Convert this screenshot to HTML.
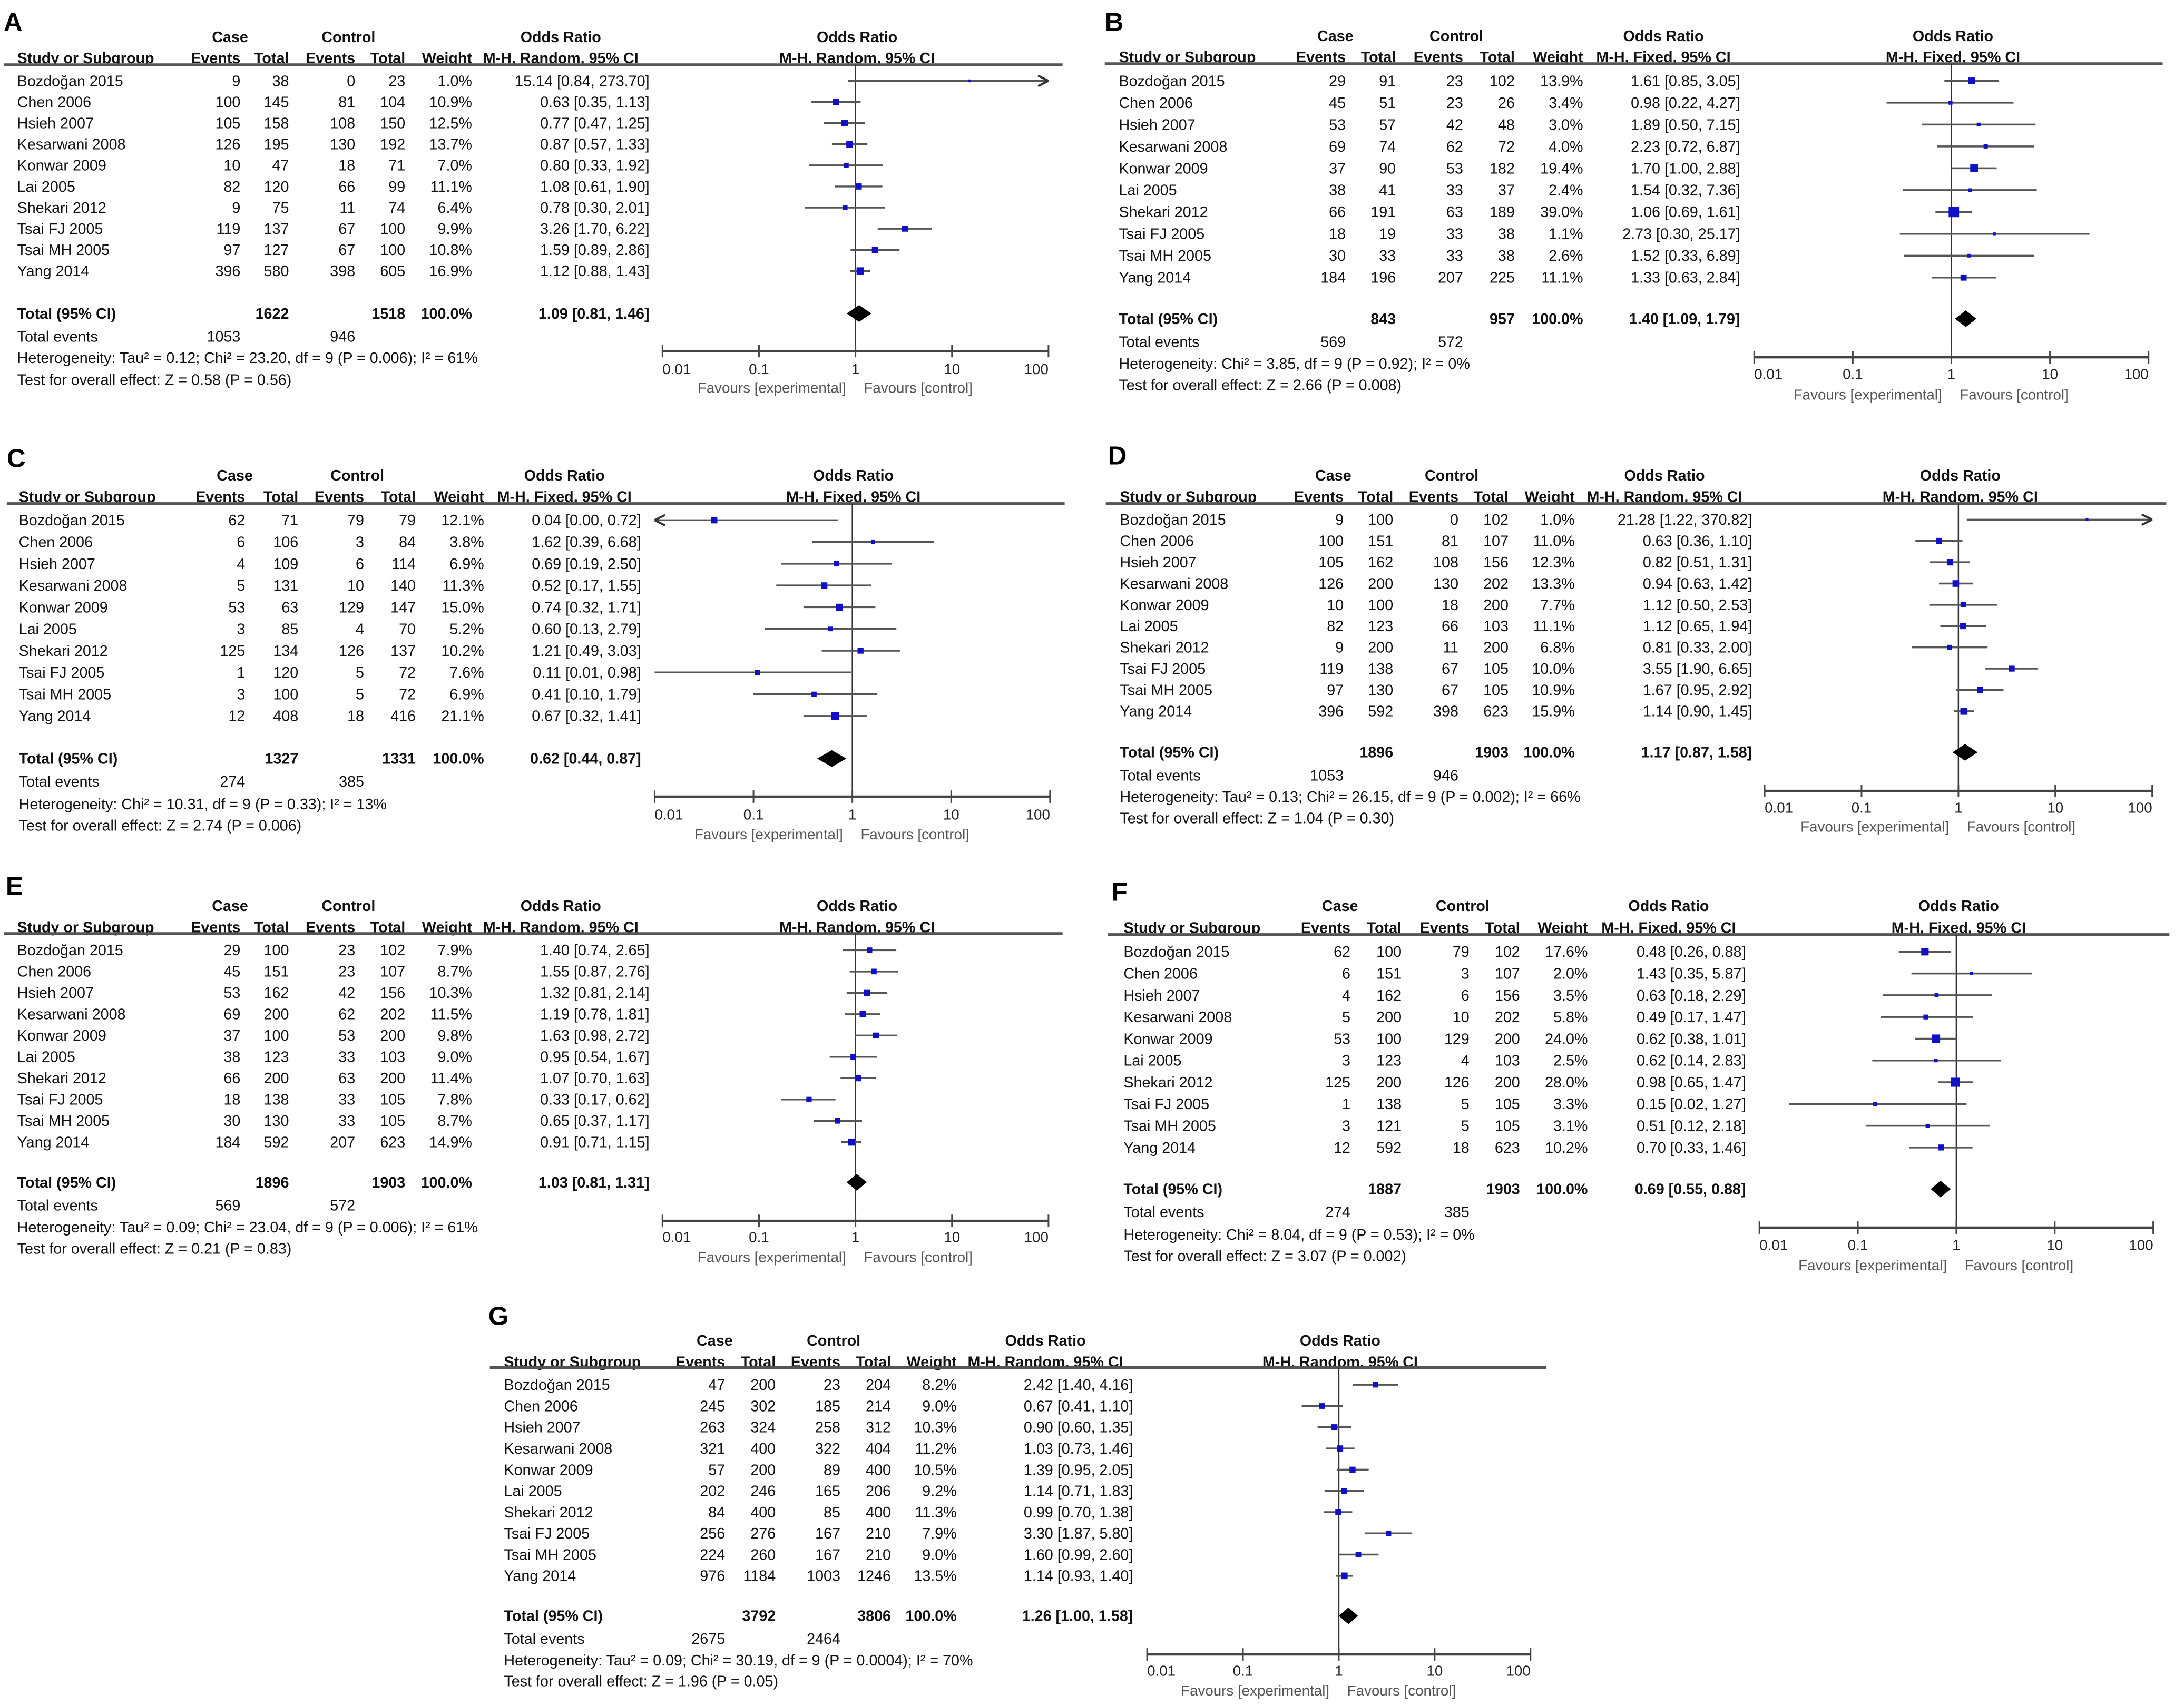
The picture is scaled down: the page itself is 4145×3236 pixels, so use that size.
<!DOCTYPE html>
<html><head><meta charset="utf-8">
<style>
html,body{margin:0;padding:0;background:#fff;}
svg{display:block;}
text{font-family:"Liberation Sans",Arial,sans-serif;}
</style></head>
<body>
<svg id="fig" xmlns="http://www.w3.org/2000/svg" width="4145" height="3236" viewBox="0 0 4145 3236"></svg>
<script>
const studies=["Bozdoğan  2015","Chen 2006","Hsieh 2007","Kesarwani 2008","Konwar 2009","Lai 2005","Shekari 2012","Tsai FJ 2005","Tsai MH 2005","Yang 2014"];
const tickVals=[0.01,0.1,1,10,100];
const tickLabels=["0.01","0.1","1","10","100"];

// Panel A
const ceA=[9,100,105,126,10,82,9,119,97,396];
const ctA=[38,145,158,195,47,120,75,137,127,580];
const keA=[0,81,108,130,18,66,11,67,67,398];
const ktA=[23,104,150,192,71,99,74,100,100,605];
const wtA=[1.0,10.9,12.5,13.7,7.0,11.1,6.4,9.9,10.8,16.9];
const orA=[15.14,0.63,0.77,0.87,0.80,1.08,0.78,3.26,1.59,1.12];
const loA=[0.84,0.35,0.47,0.57,0.33,0.61,0.30,1.70,0.89,0.88];
const hiA=[273.70,1.13,1.25,1.33,1.92,1.90,2.01,6.22,2.86,1.43];
const totA=[1622,1518,1053,946,1.09,0.81,1.46];
// Panel B
const ceB=[29,45,53,69,37,38,66,18,30,184];
const ctB=[91,51,57,74,90,41,191,19,33,196];
const keB=[23,23,42,62,53,33,63,33,33,207];
const ktB=[102,26,48,72,182,37,189,38,38,225];
const wtB=[13.9,3.4,3.0,4.0,19.4,2.4,39.0,1.1,2.6,11.1];
const orB=[1.61,0.98,1.89,2.23,1.70,1.54,1.06,2.73,1.52,1.33];
const loB=[0.85,0.22,0.50,0.72,1.00,0.32,0.69,0.30,0.33,0.63];
const hiB=[3.05,4.27,7.15,6.87,2.88,7.36,1.61,25.17,6.89,2.84];
const totB=[843,957,569,572,1.40,1.09,1.79];
// Panel C
const ceC=[62,6,4,5,53,3,125,1,3,12];
const ctC=[71,106,109,131,63,85,134,120,100,408];
const keC=[79,3,6,10,129,4,126,5,5,18];
const ktC=[79,84,114,140,147,70,137,72,72,416];
const wtC=[12.1,3.8,6.9,11.3,15.0,5.2,10.2,7.6,6.9,21.1];
const orC=[0.04,1.62,0.69,0.52,0.74,0.60,1.21,0.11,0.41,0.67];
const loC=[0.00,0.39,0.19,0.17,0.32,0.13,0.49,0.01,0.10,0.32];
const hiC=[0.72,6.68,2.50,1.55,1.71,2.79,3.03,0.98,1.79,1.41];
const totC=[1327,1331,274,385,0.62,0.44,0.87];
// Panel D
const ceD=[9,100,105,126,10,82,9,119,97,396];
const ctD=[100,151,162,200,100,123,200,138,130,592];
const keD=[0,81,108,130,18,66,11,67,67,398];
const ktD=[102,107,156,202,200,103,200,105,105,623];
const wtD=[1.0,11.0,12.3,13.3,7.7,11.1,6.8,10.0,10.9,15.9];
const orD=[21.28,0.63,0.82,0.94,1.12,1.12,0.81,3.55,1.67,1.14];
const loD=[1.22,0.36,0.51,0.63,0.50,0.65,0.33,1.90,0.95,0.90];
const hiD=[370.82,1.10,1.31,1.42,2.53,1.94,2.00,6.65,2.92,1.45];
const totD=[1896,1903,1053,946,1.17,0.87,1.58];
// Panel E
const ceE=[29,45,53,69,37,38,66,18,30,184];
const ctE=[100,151,162,200,100,123,200,138,130,592];
const keE=[23,23,42,62,53,33,63,33,33,207];
const ktE=[102,107,156,202,200,103,200,105,105,623];
const wtE=[7.9,8.7,10.3,11.5,9.8,9.0,11.4,7.8,8.7,14.9];
const orE=[1.40,1.55,1.32,1.19,1.63,0.95,1.07,0.33,0.65,0.91];
const loE=[0.74,0.87,0.81,0.78,0.98,0.54,0.70,0.17,0.37,0.71];
const hiE=[2.65,2.76,2.14,1.81,2.72,1.67,1.63,0.62,1.17,1.15];
const totE=[1896,1903,569,572,1.03,0.81,1.31];
// Panel F
const ceF=[62,6,4,5,53,3,125,1,3,12];
const ctF=[100,151,162,200,100,123,200,138,121,592];
const keF=[79,3,6,10,129,4,126,5,5,18];
const ktF=[102,107,156,202,200,103,200,105,105,623];
const wtF=[17.6,2.0,3.5,5.8,24.0,2.5,28.0,3.3,3.1,10.2];
const orF=[0.48,1.43,0.63,0.49,0.62,0.62,0.98,0.15,0.51,0.70];
const loF=[0.26,0.35,0.18,0.17,0.38,0.14,0.65,0.02,0.12,0.33];
const hiF=[0.88,5.87,2.29,1.47,1.01,2.83,1.47,1.27,2.18,1.46];
const totF=[1887,1903,274,385,0.69,0.55,0.88];
// Panel G
const ceG=[47,245,263,321,57,202,84,256,224,976];
const ctG=[200,302,324,400,200,246,400,276,260,1184];
const keG=[23,185,258,322,89,165,85,167,167,1003];
const ktG=[204,214,312,404,400,206,400,210,210,1246];
const wtG=[8.2,9.0,10.3,11.2,10.5,9.2,11.3,7.9,9.0,13.5];
const orG=[2.42,0.67,0.90,1.03,1.39,1.14,0.99,3.30,1.60,1.14];
const loG=[1.40,0.41,0.60,0.73,0.95,0.71,0.70,1.87,0.99,0.93];
const hiG=[4.16,1.10,1.35,1.46,2.05,1.83,1.38,5.80,2.60,1.40];
const totG=[3792,3806,2675,2464,1.26,1.00,1.58];

const hetA="Heterogeneity: Tau² = 0.12; Chi² = 23.20, df = 9 (P = 0.006); I² = 61%";
const hetB="Heterogeneity: Chi² = 3.85, df = 9 (P = 0.92); I² = 0%";
const hetC="Heterogeneity: Chi² = 10.31, df = 9 (P = 0.33); I² = 13%";
const hetD="Heterogeneity: Tau² = 0.13; Chi² = 26.15, df = 9 (P = 0.002); I² = 66%";
const hetE="Heterogeneity: Tau² = 0.09; Chi² = 23.04, df = 9 (P = 0.006); I² = 61%";
const hetF="Heterogeneity: Chi² = 8.04, df = 9 (P = 0.53); I² = 0%";
const hetG="Heterogeneity: Tau² = 0.09; Chi² = 30.19, df = 9 (P = 0.0004); I² = 70%";
const zA="Test for overall effect: Z = 0.58 (P = 0.56)";
const zB="Test for overall effect: Z = 2.66 (P = 0.008)";
const zC="Test for overall effect: Z = 2.74 (P = 0.006)";
const zD="Test for overall effect: Z = 1.04 (P = 0.30)";
const zE="Test for overall effect: Z = 0.21 (P = 0.83)";
const zF="Test for overall effect: Z = 3.07 (P = 0.002)";
const zG="Test for overall effect: Z = 1.96 (P = 0.05)";

// layout (pixel geometry only); o = panel origin for scale correction
const panels=[
 {id:"A",m:"Random",o:[0,0],lx:7,ly:59,h1:71,h2:111,rule:124,rx:[7,2037],r0:155,st:40.5,tot:601,tev:645,het:686,tst:728,ax:673,tl:707,fav:743,tk:[1270,2010],c:[33,461,554,681,777,905,1245],orh:1075,ph:1643,d:[ceA,ctA,keA,ktA,wtA,orA,loA,hiA,totA,hetA,zA]},
 {id:"B",m:"Fixed",o:[2070,0],lx:2097,ly:59,h1:69,h2:109,rule:122,rx:[2097,4125],r0:155,st:41.9,tot:611,tev:655,het:697,tst:738,ax:685,tl:717,fav:756,tk:[3342,4098],c:[2124,2559,2655,2784,2883,3014,3315],orh:3168,ph:3723,d:[ceB,ctB,keB,ktB,wtB,orB,loB,hiB,totB,hetB,zB]},
 {id:"C",m:"Fixed",o:[0,820],lx:13,ly:887,h1:903,h2:944,rule:957,rx:[13,2041],r0:989,st:41.7,tot:1446,tev:1490,het:1533,tst:1574,ax:1519,tl:1553,fav:1591,tk:[1255,2013],c:[36,470,572,698,797,928,1229],orh:1082,ph:1636,d:[ceC,ctC,keC,ktC,wtC,orC,loC,hiC,totC,hetC,zC]},
 {id:"D",m:"Random",o:[2070,820],lx:2103,ly:882,h1:903,h2:944,rule:957,rx:[2099,4132],r0:988,st:40.8,tot:1434,tev:1478,het:1519,tst:1560,ax:1508,tl:1540,fav:1576,tk:[3362,4105],c:[2126,2555,2650,2775,2871,2998,3338],orh:3170,ph:3737,d:[ceD,ctD,keD,ktD,wtD,orD,loD,hiD,totD,hetD,zD]},
 {id:"E",m:"Random",o:[0,1640],lx:11,ly:1699,h1:1720,h2:1761,rule:1773,rx:[7,2037],r0:1805,st:40.9,tot:2250,tev:2294,het:2336,tst:2377,ax:2324,tl:2355,fav:2393,tk:[1270,2010],c:[33,461,554,681,777,905,1245],orh:1075,ph:1643,d:[ceE,ctE,keE,ktE,wtE,orE,loE,hiE,totE,hetE,zE]},
 {id:"F",m:"Fixed",o:[2070,1640],lx:2110,ly:1710,h1:1720,h2:1762,rule:1775,rx:[2103,4138],r0:1808,st:41.7,tot:2263,tev:2307,het:2350,tst:2391,ax:2337,tl:2370,fav:2409,tk:[3352,4107],c:[2133,2568,2666,2796,2893,3023,3326],orh:3178,ph:3734,d:[ceF,ctF,keF,ktF,wtF,orF,loF,hiF,totF,hetF,zF]},
 {id:"G",m:"Random",o:[900,2450],lx:927,ly:2515,h1:2545,h2:2586,rule:2597,rx:[930,2955],r0:2630,st:40.7,tot:3073,tev:3117,het:3158,tst:3198,ax:3147,tl:3178,fav:3216,tk:[2190,2925],c:[957,1381,1478,1602,1699,1825,2163],orh:1995,ph:2560,d:[ceG,ctG,keG,ktG,wtG,orG,loG,hiG,totG,hetG,zG]}
];

const NS="http://www.w3.org/2000/svg";
const svg=document.getElementById("fig");
function el(parent,tag){const e=document.createElementNS(NS,tag);parent.appendChild(e);return e;}
function txt(g,x,y,s,anchor,bold,name,size,fill){
  const t=el(g,"text");
  t.setAttribute("x",x);t.setAttribute("y",y);
  t.setAttribute("font-size",size||29);
  t.setAttribute("text-anchor",anchor);
  if(bold)t.setAttribute("font-weight","bold");
  t.setAttribute("fill",fill||"#111");
  t.textContent=s;
  
  
  return t;
}
function line(g,x1,y1,x2,y2,w,c,name){
  const l=el(g,"line");
  l.setAttribute("x1",x1);l.setAttribute("y1",y1);l.setAttribute("x2",x2);l.setAttribute("y2",y2);
  l.setAttribute("stroke",c);l.setAttribute("stroke-width",w);
  
  
  return l;
}
const f2=v=>v.toFixed(2);
const SC=0.99;

panels.forEach(p=>{
  const [ce,ct,ke,kt,wt,or,lo,hi,tot,het,zt]=p.d;
  const g=el(svg,"g");
  g.setAttribute("transform",`translate(${p.o[0]},${p.o[1]}) scale(${SC}) translate(${-p.o[0]},${-p.o[1]})`);
  
  
  const dec=(p.tk[1]-p.tk[0])/4;
  const X=v=>p.tk[0]+(Math.log10(Math.max(v,1e-6))+2)*dec;
  const xmin=p.tk[0], xmax=p.tk[1], x1=X(1);
  const c=p.c;
  const rowY=i=>p.r0+i*p.st;
  txt(g,p.lx,p.ly,p.id,"start",true,"panel-label",50,"#000");
  txt(g,c[1]-20,p.h1+10,"Case","middle",true,"case-header");
  txt(g,c[3]-13,p.h1+10,"Control","middle",true,"control-header");
  txt(g,p.orh,p.h1+10,"Odds Ratio","middle",true,"odds-ratio-header");
  txt(g,p.ph,p.h1+10,"Odds Ratio","middle",true,"plot-odds-ratio-header");
  txt(g,c[0],p.h2+10,"Study or Subgroup","start",true,"study-header");
  txt(g,c[1],p.h2+10,"Events","end",true,"case-events-header");
  txt(g,c[2],p.h2+10,"Total","end",true,"case-total-header");
  txt(g,c[3],p.h2+10,"Events","end",true,"control-events-header");
  txt(g,c[4],p.h2+10,"Total","end",true,"control-total-header");
  txt(g,c[5],p.h2+10,"Weight","end",true,"weight-header");
  txt(g,p.orh,p.h2+10,"M-H, "+p.m+", 95% CI","middle",true,"method-header");
  txt(g,p.ph,p.h2+10,"M-H, "+p.m+", 95% CI","middle",true,"plot-method-header");
  line(g,p.rx[0],p.rule,p.rx[1],p.rule,5,"#555","header-rule");
  line(g,x1,p.rule,x1,p.ax,2.5,"#333","no-effect-line");
  studies.forEach((s,i)=>{
    const y=rowY(i);
    txt(g,c[0],y+10,s,"start",false,"study-name");
    txt(g,c[1],y+10,String(ce[i]),"end",false,"case-events");
    txt(g,c[2],y+10,String(ct[i]),"end",false,"case-total");
    txt(g,c[3],y+10,String(ke[i]),"end",false,"control-events");
    txt(g,c[4],y+10,String(kt[i]),"end",false,"control-total");
    txt(g,c[5],y+10,wt[i].toFixed(1)+"%","end",false,"weight");
    txt(g,c[6],y+10,f2(or[i])+" ["+f2(lo[i])+", "+f2(hi[i])+"]","end",false,"odds-ratio-ci");
    const a=Math.max(X(lo[i]),xmin), b=Math.min(X(hi[i]),xmax);
    line(g,a,y,b,y,3.5,"#555","ci-line");
    if(hi[i]>100){
      const ah=el(g,"path");
      ah.setAttribute("d",`M${xmax} ${y} l-20 -10 M${xmax} ${y} l-20 10`);
      ah.setAttribute("stroke","#333");ah.setAttribute("stroke-width",4);ah.setAttribute("fill","none");
      
      
    }
    if(lo[i]<0.01){
      const ah=el(g,"path");
      ah.setAttribute("d",`M${xmin} ${y} l20 -10 M${xmin} ${y} l20 10`);
      ah.setAttribute("stroke","#333");ah.setAttribute("stroke-width",4);ah.setAttribute("fill","none");
      
      
    }
    const sz=2.5+2.8*Math.sqrt(wt[i]);
    const r=el(g,"rect");
    r.setAttribute("x",X(or[i])-sz/2);r.setAttribute("y",y-sz/2);
    r.setAttribute("width",sz);r.setAttribute("height",sz);r.setAttribute("fill","#1010c8");
    
    
  });
  txt(g,c[0],p.tot+10,"Total (95% CI)","start",true,"total-label");
  txt(g,c[2],p.tot+10,String(tot[0]),"end",true,"case-total-sum");
  txt(g,c[4],p.tot+10,String(tot[1]),"end",true,"control-total-sum");
  txt(g,c[5],p.tot+10,"100.0%","end",true,"total-weight");
  txt(g,c[6],p.tot+10,f2(tot[4])+" ["+f2(tot[5])+", "+f2(tot[6])+"]","end",true,"pooled-odds-ratio");
  const dm=el(g,"polygon");
  dm.setAttribute("points",`${X(tot[5])},${p.tot} ${X(tot[4])},${p.tot-16} ${X(tot[6])},${p.tot} ${X(tot[4])},${p.tot+16}`);
  dm.setAttribute("fill","#000");
  
  
  txt(g,c[0],p.tev+10,"Total events","start",false,"total-events-label");
  txt(g,c[1],p.tev+10,String(tot[2]),"end",false,"case-total-events");
  txt(g,c[3],p.tev+10,String(tot[3]),"end",false,"control-total-events");
  txt(g,c[0],p.het+10,het,"start",false,"heterogeneity-text");
  txt(g,c[0],p.tst+10,zt,"start",false,"overall-effect-text");
  line(g,xmin,p.ax,xmax,p.ax,4.5,"#444","x-axis");
  tickVals.forEach((v,k)=>{
    const tx=X(v);
    line(g,tx,p.ax-12,tx,p.ax+12,3,"#444","x-tick");
    const anc=k===0?"start":(k===tickVals.length-1?"end":"middle");
    txt(g,tx,p.tl+10,tickLabels[k],anc,false,"x-tick-label",28,"#222");
  });
  txt(g,x1-18,p.fav+10,"Favours [experimental]","end",false,"favours-experimental-label",28,"#555");
  txt(g,x1+16,p.fav+10,"Favours [control]","start",false,"favours-control-label",28,"#555");
});
</script>
</body></html>
